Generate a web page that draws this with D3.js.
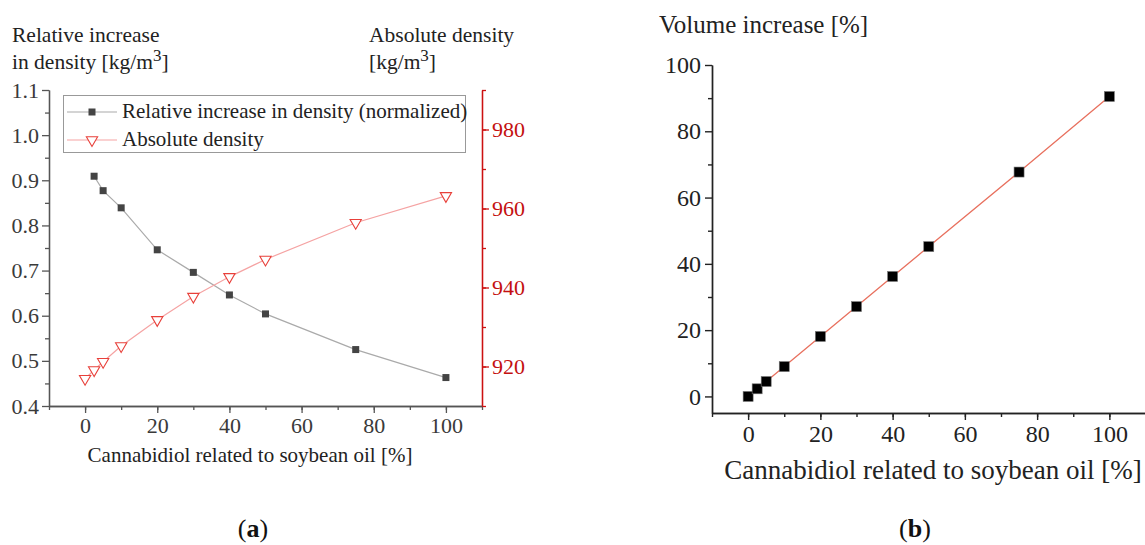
<!DOCTYPE html>
<html>
<head>
<meta charset="utf-8">
<script src="https://cdn.jsdelivr.net/npm/d3@7"></script>
<style>
  body { margin: 0; background: #fff; }
  svg text { font-family: "Liberation Serif", "DejaVu Serif", serif !important; }
</style>
</head>
<body>
<div id="chart"></div>
<script>
// panel (a)
const concA = [2.5, 5, 10, 20, 30, 40, 50, 75, 100]
const relIncrease = [0.909, 0.877, 0.839, 0.746, 0.696, 0.646, 0.604, 0.525, 0.463]
const concAbs = [0, 2.5, 5, 10, 20, 30, 40, 50, 75, 100]
const absDensity = [916.9, 919.1, 921.2, 925.2, 931.8, 937.7, 942.7, 947.1, 956.4, 963.2]
const relTicks = [0.4, 0.5, 0.6, 0.7, 0.8, 0.9, 1.0, 1.1]
const absTicks = [920, 940, 960, 980]
const xTicks = [0, 20, 40, 60, 80, 100]

// panel (b)
const concB = [0, 2.5, 5, 10, 20, 30, 40, 50, 75, 100]
const volIncrease = [0, 2.3, 4.5, 9.0, 18.1, 27.1, 36.2, 45.2, 67.7, 90.5]
const volTicks = [0, 20, 40, 60, 80, 100]

const W = 1145, H = 545
const FONT = '"Liberation Serif", "DejaVu Serif", serif'
const svg = d3.select('#chart').append('svg')
  .attr('width', W).attr('height', H)
  .attr('font-family', FONT)

// ---------- panel a ----------
const axisGray = '#555'
const xA = d3.scaleLinear().domain([-10, 110]).range([49, 482])
const yA = d3.scaleLinear().domain([0.4, 1.1]).range([406, 90])
const yA2 = d3.scaleLinear().domain([910, 990]).range([406, 90])

const gA = svg.append('g')

// minor ticks
const minorA = d3.range(-10, 111, 10)
gA.append('g').attr('transform', 'translate(0,406)')
  .call(d3.axisBottom(xA).tickValues(minorA).tickSize(4).tickFormat('').tickSizeOuter(0))
gA.append('g').attr('transform', 'translate(49,0)')
  .call(d3.axisLeft(yA).tickValues(d3.range(0.45, 1.1, 0.1)).tickSize(4).tickFormat('').tickSizeOuter(0))
gA.append('g').attr('transform', 'translate(482,0)').attr('class', 'red')
  .call(d3.axisRight(yA2).tickValues(d3.range(910, 991, 10)).tickSize(4).tickFormat('').tickSizeOuter(0))

// major axes
gA.append('g').attr('transform', 'translate(0,406)').attr('class', 'xa')
  .call(d3.axisBottom(xA).tickValues(xTicks).tickSize(7).tickSizeOuter(0).tickPadding(4))
gA.append('g').attr('transform', 'translate(49,0)').attr('class', 'ya')
  .call(d3.axisLeft(yA).tickValues(relTicks).tickSize(7).tickSizeOuter(0).tickPadding(3)
    .tickFormat(d3.format('.1f')))
gA.append('g').attr('transform', 'translate(482,0)').attr('class', 'red')
  .call(d3.axisRight(yA2).tickValues(absTicks).tickSize(7).tickSizeOuter(0).tickPadding(3))

svg.selectAll('g').attr('font-family', null)
gA.selectAll('.domain, .tick line').attr('stroke', axisGray).attr('stroke-width', 1.3)
gA.selectAll('.red .domain, .red .tick line').attr('stroke', '#cc1111')
gA.selectAll('.tick text').attr('font-size', 22).attr('fill', '#3a3a3a')
gA.selectAll('.red .tick text').attr('fill', '#c41010')

// lines
const lineRel = d3.line().x((d, i) => xA(concA[i])).y(d => yA(d))
gA.append('path').datum(relIncrease)
  .attr('fill', 'none').attr('stroke', '#aaa').attr('stroke-width', 1.2)
  .attr('d', lineRel)
const lineAbs = d3.line().x((d, i) => xA(concAbs[i])).y(d => yA2(d))
gA.append('path').datum(absDensity)
  .attr('fill', 'none').attr('stroke', '#f5a3a3').attr('stroke-width', 1.2)
  .attr('d', lineAbs)

gA.append('g').selectAll('rect')
  .data(relIncrease)
  .enter().append('rect')
  .attr('x', (d, i) => xA(concA[i]) - 3.5)
  .attr('y', d => yA(d) - 3.5)
  .attr('width', 7).attr('height', 7)
  .attr('fill', '#444')

const tri = d3.symbol().type(d3.symbolTriangle).size(55)
gA.append('g').selectAll('path')
  .data(absDensity)
  .enter().append('path')
  .attr('d', tri)
  .attr('transform', (d, i) => 'translate(' + xA(concAbs[i]) + ',' + yA2(d) + ') rotate(180)')
  .attr('fill', '#fff').attr('stroke', '#e8403a').attr('stroke-width', 1.1)

// legend
const leg = gA.append('g')
leg.append('rect').attr('x', 63.5).attr('y', 95.5).attr('width', 402).attr('height', 57)
  .attr('fill', '#fff').attr('stroke', '#999').attr('stroke-width', 1)
leg.append('line').attr('x1', 67).attr('x2', 117).attr('y1', 112).attr('y2', 112)
  .attr('stroke', '#aaa').attr('stroke-width', 1.2)
leg.append('rect').attr('x', 88.5).attr('y', 108.5).attr('width', 7).attr('height', 7).attr('fill', '#444')
leg.append('line').attr('x1', 67).attr('x2', 117).attr('y1', 140).attr('y2', 140)
  .attr('stroke', '#f5a3a3').attr('stroke-width', 1.2)
leg.append('path').attr('d', tri).attr('transform', 'translate(92,140) rotate(180)')
  .attr('fill', '#fff').attr('stroke', '#e8403a').attr('stroke-width', 1.1)
leg.append('text').attr('x', 122).attr('y', 118).attr('font-size', 21).attr('fill', '#222')
  .text('Relative increase in density (normalized)')
leg.append('text').attr('x', 122).attr('y', 146).attr('font-size', 21).attr('fill', '#222')
  .text('Absolute density')

// titles
const tA = gA.append('g').attr('fill', '#222').attr('font-size', 21.5)
tA.append('text').attr('x', 12).attr('y', 42).text('Relative increase')
const t2 = tA.append('text').attr('x', 12).attr('y', 69)
t2.append('tspan').text('in density [kg/m')
t2.append('tspan').attr('dy', -8).attr('font-size', 17).text('3')
t2.append('tspan').attr('dy', 8).text(']')
tA.append('text').attr('x', 369).attr('y', 42).text('Absolute density')
const t3 = tA.append('text').attr('x', 369).attr('y', 69)
t3.append('tspan').text('[kg/m')
t3.append('tspan').attr('dy', -8).attr('font-size', 17).text('3')
t3.append('tspan').attr('dy', 8).text(']')

gA.append('text').attr('x', 250).attr('y', 462).attr('text-anchor', 'middle')
  .attr('font-size', 21).attr('fill', '#222')
  .text('Cannabidiol related to soybean oil [%]')

// ---------- panel b ----------
const xB = d3.scaleLinear().domain([-10, 110]).range([712, 1145.5])
const yB = d3.scaleLinear().domain([-5, 100]).range([413, 65])
const gB = svg.append('g')

gB.append('g').attr('transform', 'translate(0,413)')
  .call(d3.axisBottom(xB).tickValues(d3.range(-10, 111, 10)).tickSize(4).tickFormat('').tickSizeOuter(0))
gB.append('g').attr('transform', 'translate(712,0)')
  .call(d3.axisLeft(yB).tickValues(d3.range(10, 100, 20)).tickSize(4).tickFormat('').tickSizeOuter(0))

gB.append('g').attr('transform', 'translate(0,413)')
  .call(d3.axisBottom(xB).tickValues(xTicks).tickSize(7).tickSizeOuter(0).tickPadding(5))
gB.append('g').attr('transform', 'translate(712,0)')
  .call(d3.axisLeft(yB).tickValues(volTicks).tickSize(7).tickSizeOuter(0).tickPadding(4))

gB.selectAll('g').attr('font-family', null)
gB.selectAll('.domain, .tick line').attr('stroke', '#222').attr('stroke-width', 1.4)
gB.selectAll('.tick text').attr('font-size', 24).attr('fill', '#222')

const lineVol = d3.line().x((d, i) => xB(concB[i])).y(d => yB(d))
gB.append('path').datum(volIncrease)
  .attr('fill', 'none').attr('stroke', '#e8705e').attr('stroke-width', 1.3)
  .attr('d', lineVol)

gB.append('g').selectAll('rect')
  .data(volIncrease)
  .enter().append('rect')
  .attr('x', (d, i) => xB(concB[i]) - 5)
  .attr('y', d => yB(d) - 5)
  .attr('width', 10).attr('height', 10)
  .attr('fill', '#000').attr('stroke', '#777').attr('stroke-width', 0.6)

gB.append('text').attr('x', 659).attr('y', 33).attr('font-size', 25).attr('fill', '#222')
  .text('Volume increase [%]')
gB.append('text').attr('x', 933).attr('y', 479).attr('text-anchor', 'middle')
  .attr('font-size', 27).attr('fill', '#222')
  .text('Cannabidiol related to soybean oil [%]')

// panel labels
const lab = (x, l) => {
  const t = svg.append('text').attr('x', x).attr('y', 537).attr('text-anchor', 'middle')
    .attr('font-size', 26).attr('fill', '#111')
  t.append('tspan').text('(')
  t.append('tspan').attr('font-weight', 'bold').text(l)
  t.append('tspan').text(')')
}
lab(253, 'a')
lab(915, 'b')
</script>
</body>
</html>
